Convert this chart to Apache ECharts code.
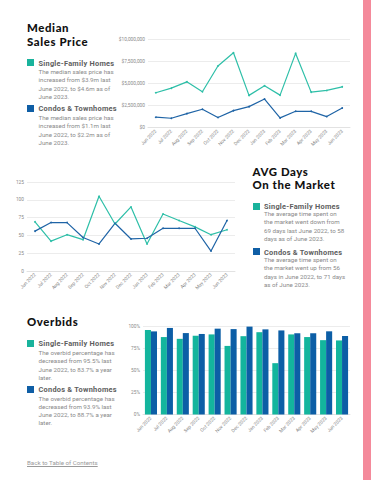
<!DOCTYPE html>
<html><head><meta charset="utf-8">
<script src="https://cdn.jsdelivr.net/npm/echarts@6/dist/echarts.min.js"></script>
<style>
html,body{margin:0;padding:0;background:#fff;}
#page{position:relative;width:371px;height:480px;overflow:hidden;background:#fff;}
#chart{position:absolute;left:0;top:0;width:371px;height:480px;}
.strip{position:absolute;left:363px;top:0;width:8px;height:480px;background:#f48a9b;}
.h{position:absolute;font-family:Lato,sans-serif;font-weight:900;font-size:11.4px;line-height:13.6px;color:#111;white-space:nowrap;letter-spacing:0.6px;}
.lg{position:absolute;font-family:Roboto,sans-serif;font-weight:700;font-size:7.4px;color:#5e5e5e;letter-spacing:0.25px;white-space:nowrap;}
.sq{position:absolute;width:7px;height:7px;}
.d{position:absolute;font-family:Roboto,sans-serif;font-size:6.2px;line-height:8.3px;color:#8a8a8a;white-space:nowrap;}
.back{position:absolute;left:27px;top:459px;font-family:Roboto,sans-serif;font-size:6.2px;color:#9a9a9a;text-decoration:underline;}
</style></head>
<body><div id="page">
<div id="chart"></div>
<div class="strip"></div>

<div class="h" style="left:27px;top:21.1px;">Median</div>
<div class="h" style="left:27px;top:34.7px;">Sales Price</div>
<div class="sq" style="left:27px;top:59px;background:#19b39c;"></div>
<div class="lg" style="left:38.5px;top:58.5px;">Single-Family Homes</div>
<div class="d" style="left:38.5px;top:68px;">The median sales price has<br>increased from $3.9m last<br>June 2022, to $4.6m as of<br>June 2023.</div>
<div class="sq" style="left:27px;top:104.5px;background:#0f5ea5;"></div>
<div class="lg" style="left:38.5px;top:104px;">Condos &amp; Townhomes</div>
<div class="d" style="left:38.5px;top:114px;">The median sales price has<br>increased from $1.1m last<br>June 2022, to $2.2m as of<br>June 2023.</div>

<div class="h" style="left:252.5px;top:164.5px;">AVG Days</div>
<div class="h" style="left:252.5px;top:178.1px;">On the Market</div>
<div class="sq" style="left:252.5px;top:202.5px;background:#19b39c;"></div>
<div class="lg" style="left:264px;top:201.5px;">Single-Family Homes</div>
<div class="d" style="left:264px;top:210px;">The average time spent on<br>the market went down from<br>69 days last June 2022, to 58<br>days as of June 2023.</div>
<div class="sq" style="left:252.5px;top:248px;background:#0f5ea5;"></div>
<div class="lg" style="left:264px;top:247.5px;">Condos &amp; Townhomes</div>
<div class="d" style="left:264px;top:256px;">The average time spent on<br>the market went up from 56<br>days in June 2022, to 71 days<br>as of June 2023.</div>

<div class="h" style="left:27px;top:314.5px;">Overbids</div>
<div class="sq" style="left:27px;top:340px;background:#19b39c;"></div>
<div class="lg" style="left:38.5px;top:339px;">Single-Family Homes</div>
<div class="d" style="left:38.5px;top:349px;">The overbid percentage has<br>decreased from 95.5% last<br>June 2022, to 83.7% a year<br>later.</div>
<div class="sq" style="left:27px;top:385.5px;background:#0f5ea5;"></div>
<div class="lg" style="left:38.5px;top:384.5px;">Condos &amp; Townhomes</div>
<div class="d" style="left:38.5px;top:394.5px;">The overbid percentage has<br>decreased from 93.9% last<br>June 2022, to 88.7% a year<br>later.</div>
<div class="back">Back to Table of Contents</div>
</div>
<script>
const months = ["Jun 2022","Jul 2022","Aug 2022","Sep 2022","Oct 2022","Nov 2022","Dec 2022","Jan 2023","Feb 2023","Mar 2023","Apr 2023","May 2023","Jun 2023"];
const priceSingleFamily = [3950000,4470000,5190000,4060000,6990000,8500000,3650000,4740000,3680000,8420000,4020000,4210000,4620000];
const priceCondos = [1170000,1050000,1580000,2070000,1130000,1920000,2370000,3230000,1090000,1840000,1840000,1240000,2220000];
const daysSingleFamily = [69,42,51,44,105,66,90,38,80,71,62,51,58];
const daysCondos = [56,68,68,47,38,67,45,46,60,60,60,28,71];
const overbidSingleFamily = [95.5,87.5,85.5,89,90.5,77.5,88.5,93,58,90.5,87.5,84,83.7];
const overbidCondos = [93.9,97.8,92,91,97,96.5,99.3,96.2,95,91.8,91.8,94,88.7];

const TEAL = '#2ebfa8', BLUE = '#1f64a6';
const BAR_TEAL = '#13b59d', BAR_BLUE = '#0c5ea6';
const lblFont = {fontFamily:'Roboto, sans-serif', fontSize:4.8, color:'#8a8a8a'};

function xAx(gi){
  return {type:'category', gridIndex:gi, data:months, boundaryGap:true,
    axisLine:{show:true, lineStyle:{color:'#e2e2e2'}}, axisTick:{show:false},
    axisLabel:Object.assign({rotate:45, margin:3, interval:0}, lblFont)};
}
function yAx(gi, max, interval, fmt){
  return {type:'value', gridIndex:gi, min:0, max:max, interval:interval,
    axisLine:{show:false}, axisTick:{show:false},
    splitLine:{lineStyle:{color:'#ececec', width:1}},
    axisLabel:Object.assign({margin:3, formatter:fmt}, lblFont)};
}
const chart = echarts.init(document.getElementById('chart'), null, {renderer:'svg'});
chart.setOption({
  animation:false,
  grid:[
    {left:148, top:39.5, width:202, height:88},
    {left:27, top:182, width:208, height:89},
    {left:143, top:326, width:207, height:88.5}
  ],
  xAxis:[xAx(0), xAx(1), xAx(2)],
  yAxis:[
    yAx(0, 10000000, 2500000, v => '$' + v.toLocaleString('en-US')),
    yAx(1, 125, 25, v => String(v)),
    yAx(2, 100, 25, v => v + '%')
  ],
  series:[
    {type:'line', xAxisIndex:0, yAxisIndex:0, data:priceSingleFamily, color:TEAL, lineStyle:{width:1.2}, symbol:'circle', symbolSize:1.8},
    {type:'line', xAxisIndex:0, yAxisIndex:0, data:priceCondos, color:BLUE, lineStyle:{width:1.2}, symbol:'circle', symbolSize:1.8},
    {type:'line', xAxisIndex:1, yAxisIndex:1, data:daysSingleFamily, color:TEAL, lineStyle:{width:1.2}, symbol:'circle', symbolSize:1.8},
    {type:'line', xAxisIndex:1, yAxisIndex:1, data:daysCondos, color:BLUE, lineStyle:{width:1.2}, symbol:'circle', symbolSize:1.8},
    {type:'bar', xAxisIndex:2, yAxisIndex:2, data:overbidSingleFamily, color:BAR_TEAL, barGap:'0%', barCategoryGap:'24%'},
    {type:'bar', xAxisIndex:2, yAxisIndex:2, data:overbidCondos, color:BAR_BLUE, barGap:'0%', barCategoryGap:'24%'}
  ]
});
</script>
</body></html>
